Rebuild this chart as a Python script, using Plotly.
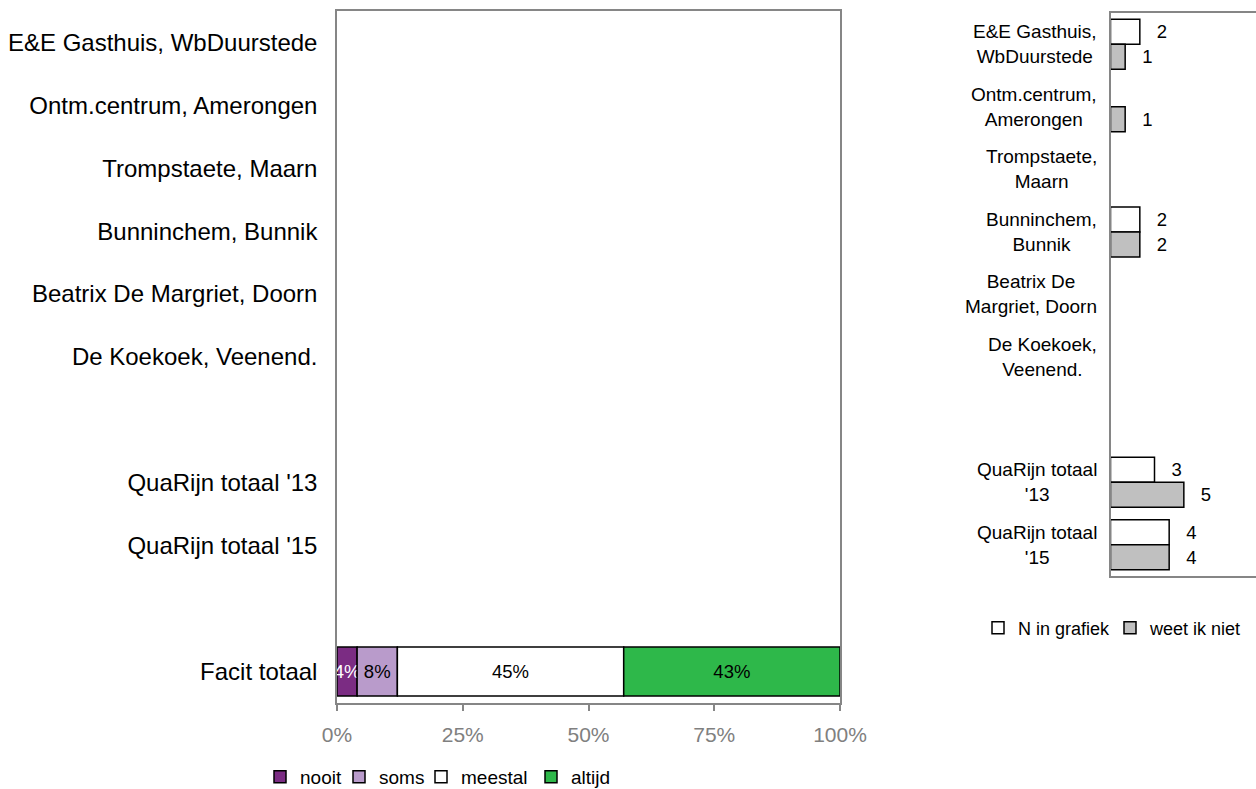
import plotly.graph_objects as go

W, H = 1256, 789
FONT = "Liberation Sans, Arial, sans-serif"
GRID = "#868686"

# ---------------- data: left chart ----------------
left_categories = [
    "E&E Gasthuis, WbDuurstede",
    "Ontm.centrum, Amerongen",
    "Trompstaete, Maarn",
    "Bunninchem, Bunnik",
    "Beatrix De Margriet, Doorn",
    "De Koekoek, Veenend.",
    " ",
    "QuaRijn totaal '13",
    "QuaRijn totaal '15",
    "  ",
    "Facit totaal",
]
nooit = [None, None, None, None, None, None, None, None, None, None, 4]
soms = [None, None, None, None, None, None, None, None, None, None, 8]
meestal = [None, None, None, None, None, None, None, None, None, None, 45]
altijd = [None, None, None, None, None, None, None, None, None, None, 43]
left_ticks = [0, 25, 50, 75, 100]
left_ticktext = ["0%", "25%", "50%", "75%", "100%"]

# ---------------- data: right chart ----------------
right_categories = [
    "E&E Gasthuis,<br>WbDuurstede",
    "Ontm.centrum,<br>Amerongen",
    "Trompstaete,<br>Maarn",
    "Bunninchem,<br>Bunnik",
    "Beatrix De<br>Margriet, Doorn",
    "De Koekoek,<br>Veenend.",
    " ",
    "QuaRijn totaal<br>'13",
    "QuaRijn totaal<br>'15",
]
n_in_grafiek = [2, None, None, 2, None, None, None, 3, 4]
weet_ik_niet = [1, 1, None, 2, None, None, None, 5, 4]


def add(a, b):
    return [None if (x is None or y is None) else x + y for x, y in zip(a, b)]


zeros = [None if v is None else 0 for v in nooit]
# name, values, base, colour, label colour, legend id, legend x (px)
left_series = [
    ("nooit", nooit, zeros, "#7B2C83", "white", "legend", 260),
    ("soms", soms, nooit, "#B99BCB", "black", "legend2", 339),
    ("meestal", meestal, add(nooit, soms), "#FFFFFF", "black", "legend3", 421),
    ("altijd", altijd, add(add(nooit, soms), meestal), "#2EB84A", "black", "legend4", 531),
]

fig = go.Figure()

for name, vals, base, color, tcolor, leg, _ in left_series:
    fig.add_trace(go.Bar(
        name=name, orientation="h", y=left_categories, x=vals, base=base,
        width=0.78,
        marker=dict(color=color, line=dict(color="black", width=1.5)),
        text=["" if v is None else f"{v}%" for v in vals],
        textposition="inside", insidetextanchor="middle", constraintext="none",
        textangle=0,
        textfont=dict(size=18.5, color=tcolor, family=FONT),
        xaxis="x", yaxis="y", legend=leg, hoverinfo="skip",
    ))

LABEL_TPL = "\u00a0\u00a0\u2009%{x}"
fig.add_trace(go.Bar(
    name="N in grafiek", orientation="h", y=right_categories, x=n_in_grafiek,
    width=0.4, offset=-0.4,
    marker=dict(color="#FFFFFF", line=dict(color="black", width=1.5)),
    texttemplate=LABEL_TPL, textposition="outside", constraintext="none",
    textfont=dict(size=18.5, color="black", family=FONT), cliponaxis=False,
    xaxis="x2", yaxis="y2", legend="legend5", hoverinfo="skip",
))
fig.add_trace(go.Bar(
    name="weet ik niet", orientation="h", y=right_categories, x=weet_ik_niet,
    width=0.4, offset=0.0,
    marker=dict(color="#C0C0C0", line=dict(color="black", width=1.5)),
    texttemplate=LABEL_TPL, textposition="outside", constraintext="none",
    textfont=dict(size=18.5, color="black", family=FONT), cliponaxis=False,
    xaxis="x2", yaxis="y2", legend="legend6", hoverinfo="skip",
))

annotations = []
for c in right_categories:
    if c.strip():
        annotations.append(dict(
            x=1099 / W, xref="paper", xanchor="right", y=c, yref="y2",
            yanchor="middle", text=c, showarrow=False, align="center",
            font=dict(size=19, color="black", family=FONT),
        ))


def legend_at(xpx, ypx, size):
    return dict(
        orientation="h", x=xpx / W, xanchor="left", y=1 - ypx / H, yanchor="middle",
        font=dict(size=size, color="black", family=FONT), bgcolor="rgba(0,0,0,0)",
        borderwidth=0,
    )


legends = {}
for _, _, _, _, _, leg, lx in left_series:
    legends[leg] = legend_at(lx, 777, 19)
legends["legend5"] = legend_at(978, 628, 18)
legends["legend6"] = legend_at(1110, 628, 18)

fig.update_layout(
    template="none",
    width=W, height=H, autosize=False,
    margin=dict(l=0, r=0, t=0, b=0, autoexpand=False),
    paper_bgcolor="white", plot_bgcolor="white",
    font=dict(family=FONT, color="black"),
    barmode="overlay",
    showlegend=True,
    xaxis=dict(
        domain=[337 / W, 840 / W], anchor="y", range=[0, 100],
        tickmode="array", tickvals=left_ticks, ticktext=left_ticktext,
        showgrid=False, zeroline=False,
        showline=True, mirror=True, linecolor=GRID, linewidth=1.5,
        ticks="outside", ticklen=6, tickcolor=GRID, tickwidth=1.5,
        tickfont=dict(size=21, color="#808080", family=FONT),
        ticklabelstandoff=6,
    ),
    yaxis=dict(
        domain=[1 - 703 / H, 1 - 11 / H], anchor="x", type="category",
        categoryorder="array", categoryarray=left_categories,
        range=[10.5, -0.5],
        showgrid=False, zeroline=False,
        showline=True, mirror=True, linecolor=GRID, linewidth=1.5,
        ticks="", tickfont=dict(size=24, color="black", family=FONT),
        ticklabelstandoff=13,
    ),
    xaxis2=dict(
        domain=[1110.5 / W, 1], anchor="y2", range=[0, 9.92],
        showgrid=False, zeroline=False, showticklabels=False, ticks="",
        showline=True, mirror=True, linecolor=GRID, linewidth=1.5,
    ),
    yaxis2=dict(
        domain=[1 - 576 / H, 1 - 13 / H], anchor="x2", type="category",
        categoryorder="array", categoryarray=right_categories,
        range=[8.5, -0.5],
        showgrid=False, zeroline=False, showticklabels=False, ticks="",
        showline=True, mirror=False, linecolor=GRID, linewidth=1.5,
    ),
    annotations=annotations,
    **legends,
)

fig.write_html("out.html")
